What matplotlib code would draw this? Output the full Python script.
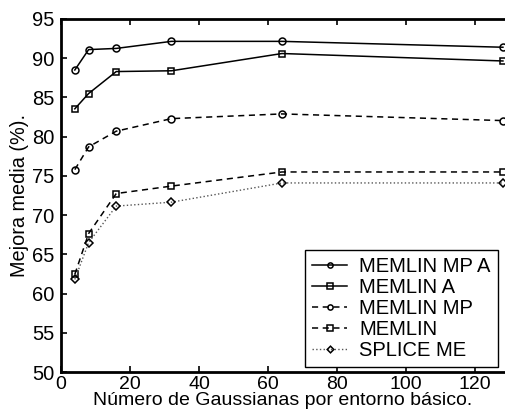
import matplotlib
matplotlib.use('Agg')
import matplotlib.pyplot as plt

plt.rcParams['font.family'] = ['Liberation Sans', 'DejaVu Sans']
plt.rcParams['font.size'] = 14.5

gauss = [4, 8, 16, 32, 64, 128]
memlin_mp_a = [88.5, 91.1, 91.25, 92.15, 92.15, 91.4]
memlin_a = [83.55, 85.5, 88.3, 88.4, 90.6, 89.65]
memlin_mp = [75.8, 78.7, 80.7, 82.3, 82.9, 82.05]
memlin = [62.45, 67.65, 72.75, 73.7, 75.5, 75.5]
splice_me = [61.8, 66.5, 71.15, 71.65, 74.1, 74.1]

fig = plt.figure(figsize=(5.05, 4.16), dpi=100)
ax = fig.add_axes([61/505, 44/416, 444/505, 353/416])

mk = dict(markersize=5, markerfacecolor='none', markeredgecolor='k', markeredgewidth=1.1, color='k', lw=1.1)
ax.plot(gauss, memlin_mp_a, '-', marker='o', label='MEMLIN MP A', **mk)
ax.plot(gauss, memlin_a, '-', marker='s', label='MEMLIN A', **mk)
ax.plot(gauss, memlin_mp, '--', marker='o', label='MEMLIN MP', dashes=(4, 3), **mk)
ax.plot(gauss, memlin, '--', marker='s', label='MEMLIN', dashes=(4, 3), **mk)
ax.plot(gauss, splice_me, ':', marker='D', label='SPLICE ME', **dict(mk, markersize=4.5, lw=1.0, color='#555555'))

ax.set_xlim(0, 128.6)
ax.set_ylim(50, 95)
ax.set_xticks(range(0, 121, 20))
ax.set_yticks(range(50, 96, 5))
ax.tick_params(direction='in', top=True, right=False, length=4, width=1.2, labelsize=14.5)
ax.tick_params(axis='x', pad=3, labelsize=14)
ax.tick_params(axis='y', pad=5)
ax.spines['right'].set_visible(False)
for s in ['left', 'bottom', 'top']:
    ax.spines[s].set_linewidth(2)

ax.set_xlabel('Número de Gaussianas por entorno básico.', fontsize=14, labelpad=-1)
ax.set_ylabel('Mejora media (%).', fontsize=14.3, labelpad=2)

leg = ax.legend(loc='lower left', bbox_to_anchor=(305/505, 49/416), bbox_transform=fig.transFigure,
                fancybox=False, framealpha=1, edgecolor='k', fontsize=14.5, handlelength=1.75,
                borderpad=0.35, labelspacing=0.1, handletextpad=0.6, borderaxespad=0, markerscale=0.75)
leg.get_frame().set_linewidth(1)

fig.savefig('out.png', dpi=100)
